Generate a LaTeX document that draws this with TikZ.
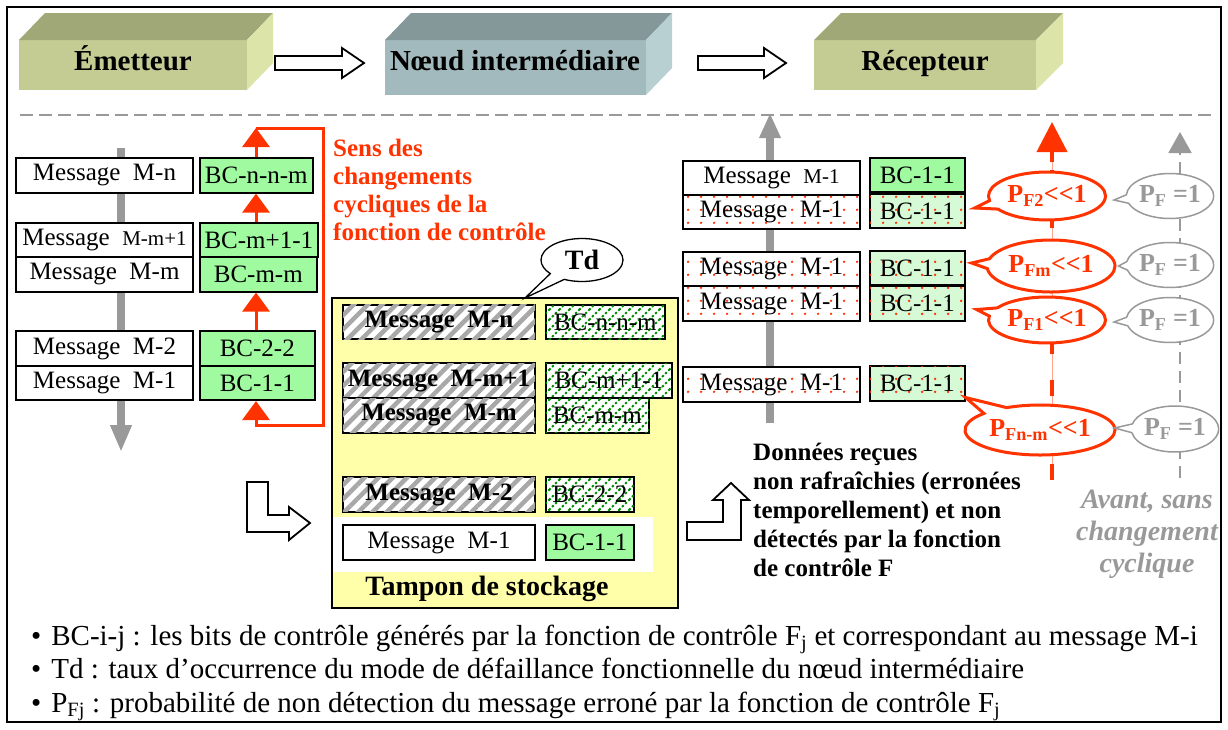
\documentclass[tikz,border=0pt]{standalone}
\usepackage{fontspec}
\setmainfont{Liberation Serif}
\usetikzlibrary{arrows.meta}
\usetikzlibrary{patterns.meta}
\usetikzlibrary{shapes.callouts}

\definecolor{olivefront}{RGB}{196,204,148}
\definecolor{olivetop}{RGB}{160,168,120}
\definecolor{oliveside}{RGB}{221,228,170}
\definecolor{tealfront}{RGB}{162,186,189}
\definecolor{tealtop}{RGB}{132,152,154}
\definecolor{tealside}{RGB}{184,208,210}
\definecolor{bufyellow}{RGB}{255,255,170}
\definecolor{redc}{RGB}{255,51,0}
\definecolor{greyc}{RGB}{153,153,153}
\definecolor{bcgreen}{RGB}{160,250,160}
\definecolor{bclight}{RGB}{214,250,214}

\tikzdeclarepattern{
  name=greenhatch,
  type=uncolored,
  bottom left={(-1pt,-1pt)},
  top right={(11pt,11pt)},
  tile size={(10pt,10pt)},
  code={\draw[line width=2pt,dash pattern=on 2.2pt off 2.2pt] (-1pt,-1pt) -- (11pt,11pt);}
}

\begin{document}
\begin{tikzpicture}[x=1pt,y=-1pt,>={Triangle[width=27pt,length=19pt]},
  msg/.style={draw,line width=1.6pt,fill=white,minimum width=177pt,minimum height=34.5pt,inner sep=0pt,font=\fontsize{25}{30}\selectfont},
  bc/.style={draw,line width=1.6pt,fill=bcgreen,minimum height=34.5pt,inner sep=0pt,anchor=west,font=\fontsize{25}{30}\selectfont},
  hatchmsg/.style={msg,minimum width=192pt,font=\bfseries\fontsize{25}{30}\selectfont,postaction={pattern={Lines[angle=45,distance=10pt,line width=4.5pt]},pattern color=greyc!85}},
  hatchbc/.style={bc,fill=white,postaction={pattern=greenhatch,pattern color=green!55!black}},
  dotmsg/.style={msg,postaction={pattern={Dots[distance=13pt,radius=1.4pt]},pattern color=redc}},
  dotbc/.style={bc,fill=bclight,postaction={pattern={Dots[distance=13pt,radius=1.4pt]},pattern color=redc}},
  redarr/.style={redc,line width=3pt,->},
  redcall/.style={ellipse callout,draw=redc,line width=3pt,fill=white,text=redc,inner sep=0pt,callout pointer arc=22,font=\bfseries\fontsize{26}{30}\selectfont},
  greycall/.style={ellipse callout,draw=greyc,line width=1.5pt,fill=white,text=greyc,inner sep=0pt,minimum width=85pt,minimum height=45pt,callout pointer arc=22,font=\bfseries\fontsize{26}{30}\selectfont},
  blockarrow/.style={draw,line width=1.8pt,fill=white},
  toplabel/.style={anchor=base,font=\bfseries\fontsize{29}{34}\selectfont}]
\useasboundingbox (0,0) rectangle (1228,729);
\fill[white] (0,0) rectangle (1228,729);
\draw[line width=1.5pt] (7,7) rectangle (1221,722);

% boites du haut
\fill[olivefront] (19,40) rectangle (247,90);
\fill[olivetop] (19,40) -- (45,13) -- (273,13) -- (247,40) -- cycle;
\fill[oliveside] (247,40) -- (273,13) -- (273,63) -- (247,90) -- cycle;
\node[toplabel] (emet) at (133,70) {Émetteur};
\fill[tealfront] (385,40) rectangle (646,95);
\fill[tealtop] (385,40) -- (411,13) -- (672,13) -- (646,40) -- cycle;
\fill[tealside] (646,40) -- (672,13) -- (672,68) -- (646,95) -- cycle;
\node[toplabel] (noeud) at (515,70) {Nœud intermédiaire};
\fill[olivefront] (814,40) rectangle (1036,90);
\fill[olivetop] (814,40) -- (841,13) -- (1063,13) -- (1036,40) -- cycle;
\fill[oliveside] (1036,40) -- (1063,13) -- (1063,63) -- (1036,90) -- cycle;
\node[toplabel] (recep) at (925,70) {Récepteur};
\draw[blockarrow] (275,56) -- (342,56) -- (342,48) -- (364,63) -- (342,78) -- (342,70) -- (275,70) -- cycle;
\draw[blockarrow] (698,56) -- (764,56) -- (764,48) -- (786,63) -- (764,78) -- (764,70) -- (698,70) -- cycle;
\draw[greyc,line width=2pt,dash pattern=on 13pt off 6pt] (20,115) -- (1212,115);

% emetteur
\draw[greyc,line width=8pt,-{Triangle[width=20pt,length=27pt]}] (121,148) -- (121,452);
\node[msg] (lmn) at (104.5,175.5) {Message~~M-n};
\node[msg] (lmm1) at (104.5,240) {Message~~{\fontsize{21}{25}\selectfont M-m+1}};
\node[msg] (lmm) at (104.5,274.5) {Message~~M-m};
\node[msg] (lm2) at (104.5,348.5) {Message~~M-2};
\node[msg] (lm1) at (104.5,383) {Message~~M-1};
\node[bc,minimum width=113pt] (lbcn) at (199,175.5) {BC-n-n-m};
\node[bc,minimum width=118pt] (lbcm1) at (199,240) {BC-m+1-1};
\node[bc,minimum width=117pt] (lbcmm) at (199,274.5) {BC-m-m};
\node[bc,minimum width=115pt] (lbc22) at (199,348.5) {BC-2-2};
\node[bc,minimum width=115pt] (lbc11) at (199,383) {BC-1-1};
\coordinate (lx) at (256,0);
\coordinate (lpt) at (256,128);
\coordinate (lpb) at (256,425);
\draw[redarr] (lbcm1.north -| lx) -- (lbcn.south -| lx);
\draw[redarr] (lbc22.north -| lx) -- (lbcmm.south -| lx);
\draw[redarr] (lbcn.north -| lx) -- (lpt);
\draw[redarr] (lpt) -- (323,128) -- (323,425) -- (lpb) -- (lbc11.south -| lx);
\node[anchor=north west,align=left,inner sep=0pt,text=redc,font=\bfseries\fontsize{25}{28}\selectfont] (sens) at (333,139)
  {Sens des\\changements\\cycliques de la\\fonction de contrôle};

% noeud intermediaire
\draw[line width=1.6pt,fill=bufyellow] (332,298) rectangle (678,608);
\node[ellipse callout,draw,line width=1.3pt,fill=white,minimum width=82pt,minimum height=43pt,inner sep=0pt,
  callout pointer arc=25,callout absolute pointer={(525,298)},font=\bfseries\fontsize{28}{32}\selectfont] (td) at (582,260) {Td};
\fill[white] (333,517) rectangle (653,572);
\node[hatchmsg] (bmn) at (439,322) {Message~~M-n};
\node[hatchmsg] (bmm1) at (439,380.5) {Message~~M-m+1};
\node[hatchmsg] (bmm) at (439,415.5) {Message~~M-m};
\node[hatchmsg] (bm2) at (439,494.5) {Message~~M-2};
\node[msg,minimum width=192pt] (bm1) at (439,542.5) {Message~~M-1};
\node[hatchbc,minimum width=119pt] (bbcn) at (545,322) {BC-n-n-m};
\node[hatchbc,minimum width=126pt] (bbcm1) at (545,380.5) {BC-m+1-1};
\node[hatchbc,minimum width=103pt] (bbcmm) at (545,415.5) {BC-m-m};
\node[hatchbc,minimum width=88pt] (bbc22) at (545,494.5) {BC-2-2};
\node[bc,minimum width=88pt] (bbc11) at (545,542.5) {BC-1-1};
\node[anchor=base,font=\bfseries\fontsize{28}{32}\selectfont] (tampon) at (487,595) {Tampon de stockage};
\draw[blockarrow] (247,482) -- (268,482) -- (268,515) -- (289,515) -- (289,507) -- (310,523) -- (289,540) -- (289,532) -- (247,532) -- cycle;

% recepteur
\draw[greyc,line width=8pt,-{Triangle[width=20pt,length=25pt]}] (770,423) -- (770,113);
\node[msg] (rm1) at (771.5,178) {Message~~{\fontsize{21}{25}\selectfont M-1}};
\node[dotmsg] (rd1) at (771.5,212) {Message~~M-1};
\node[dotmsg] (rd2) at (771.5,269) {Message~~M-1};
\node[dotmsg] (rd3) at (771.5,303.5) {Message~~M-1};
\node[dotmsg] (rd4) at (771.5,384.5) {Message~~M-1};
\node[bc,minimum width=95pt] (rbc1) at (869,175) {BC-1-1};
\node[dotbc,minimum width=95pt] (rbcd1) at (869,211) {BC-1-1};
\node[dotbc,minimum width=95pt] (rbcd2) at (869,268) {BC-1-1};
\node[dotbc,minimum width=95pt] (rbcd3) at (869,303.5) {BC-1-1};
\node[dotbc,minimum width=95pt] (rbcd4) at (869,383.5) {BC-1-1};
\draw[blockarrow] (687,540) -- (687,522) -- (723,522) -- (723,500) -- (713,500) -- (731,483) -- (749,500) -- (741,500) -- (741,540) -- cycle;
\node[anchor=north west,align=left,inner sep=0pt,font=\bfseries\fontsize{25}{29}\selectfont] (donnees) at (753,443)
  {Données reçues\\non rafraîchies (erronées\\temporellement) et non\\détectés par la fonction\\de contrôle F};

% fonctions de controle
\draw[redc!45,line width=1pt] (1052,480) -- (1052,150);
\draw[redc,line width=4pt,dash pattern=on 16pt off 26pt] (1052,480) -- (1052,150);
\draw[redc,line width=4pt,-{Triangle[width=30pt,length=30pt]}] (1052,162) -- (1052,122);
\draw[greyc,line width=2pt,dash pattern=on 12pt off 7pt,-{Triangle[width=23pt,length=21pt]}] (1180,478) -- (1180,132);
\node[redcall,minimum width=117pt,minimum height=48pt,callout absolute pointer={([xshift=9pt,yshift=3pt]rbcd1.east)}] (pf2) at (1047,196) {P\textsubscript{F2}<\kern0pt<1};
\node[redcall,minimum width=128pt,minimum height=52pt,callout absolute pointer={([xshift=6pt,yshift=5pt]rbcd2.east)}] (pfm) at (1051,266) {P\textsubscript{Fm}<\kern0pt<1};
\node[redcall,minimum width=117pt,minimum height=46pt,callout absolute pointer={([xshift=11pt,yshift=-6pt]rbcd3.east)}] (pf1) at (1047,320) {P\textsubscript{F1}<\kern0pt<1};
\node[redcall,minimum width=150pt,minimum height=50pt,callout absolute pointer={([yshift=4pt]rbcd4.south east)}] (pfn) at (1040,430) {P\textsubscript{Fn-m}<\kern0pt<1};
\node[greycall,callout absolute pointer={([xshift=7pt,yshift=-4pt]pf2.east)}] (g1) at (1170,196) {P\textsubscript{F} =1};
\node[greycall,callout absolute pointer={([xshift=2pt]pfm.east)}] (g2) at (1170,265) {P\textsubscript{F} =1};
\node[greycall,callout absolute pointer={([xshift=7pt,yshift=-2pt]pf1.east)}] (g3) at (1170,320) {P\textsubscript{F} =1};
\node[greycall,minimum width=84pt,minimum height=46pt,callout absolute pointer={([xshift=-2pt,yshift=2pt]pfn.east)}] (g4) at (1175,429) {P\textsubscript{F} =1};
\node[anchor=north,align=center,inner sep=0pt,text=greyc,font=\bfseries\itshape\fontsize{28}{32}\selectfont] (avant) at (1147,490)
  {Avant, sans\\changement\\cyclique};

% legende
\node[anchor=base west,inner sep=0pt,font=\fontsize{29}{33}\selectfont] (leg1) at (31,645)
  {\textbullet\hspace{10pt}BC-i-j : les bits de contrôle générés par la fonction de contrôle F\textsubscript{j} et correspondant au message M-i};
\node[anchor=base west,inner sep=0pt,font=\fontsize{29}{33}\selectfont] (leg2) at (31,678)
  {\textbullet\hspace{10pt}Td : taux d’occurrence du mode de défaillance fonctionnelle du nœud intermédiaire};
\node[anchor=base west,inner sep=0pt,font=\fontsize{29}{33}\selectfont] (leg3) at (31,712)
  {\textbullet\hspace{10pt}P\textsubscript{Fj} : probabilité de non détection du message erroné par la fonction de contrôle F\textsubscript{j}};
\end{tikzpicture}
\end{document}
